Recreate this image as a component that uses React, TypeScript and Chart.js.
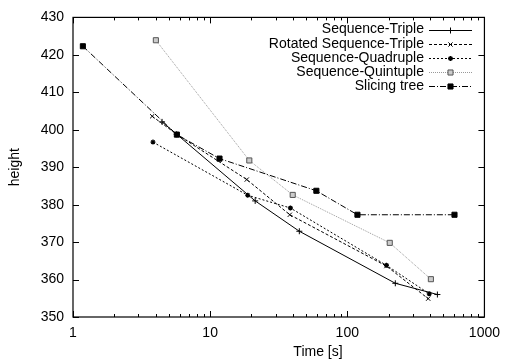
import React, { useEffect, useRef } from "react";
import { Chart, registerables } from "chart.js";
import { drawPoint } from "chart.js/helpers";

Chart.register(...registerables);

const seriesNames = [
  "Sequence-Triple",
  "Rotated Sequence-Triple",
  "Sequence-Quadruple",
  "Sequence-Quintuple",
  "Slicing tree",
];

const tripleX = [4.46, 5.7, 21.3, 44.7, 224, 454];
const tripleY = [402.1, 398.8, 381.0, 372.9, 359.0, 356.0];

const rotatedX = [3.78, 5.7, 18.5, 38.1, 193, 389];
const rotatedY = [403.6, 398.8, 386.7, 377.3, 363.6, 354.9];

const quadX = [3.83, 18.8, 38.5, 193, 396];
const quadY = [396.7, 382.5, 379.1, 363.8, 356.2];

const quintX = [4.02, 19.3, 40.0, 204, 407];
const quintY = [423.9, 391.8, 382.6, 369.8, 360.1];

const slicingX = [1.18, 5.72, 11.7, 59.5, 118.6, 605];
const slicingY = [422.3, 398.7, 392.3, 383.7, 377.3, 377.3];

const xMajorTicks = [1, 10, 100, 1000];
const yTicks = [350, 360, 370, 380, 390, 400, 410, 420, 430];

const xTitle = "Time [s]";
const yTitle = "height";

const FONT = "'Liberation Sans', Arial, Helvetica, sans-serif";
const FSIZE = 14;

function pts(xs: number[], ys: number[]) {
  return xs.map((x, i) => ({ x, y: ys[i] }));
}

const gnuplotPlugin = {
  id: "gnuplotDecor",
  afterDraw(chart: any) {
    const ctx = chart.ctx;
    const area = chart.chartArea;
    const xs = chart.scales.x;
    const ys = chart.scales.y;
    ctx.save();
    ctx.strokeStyle = "#000";
    ctx.lineWidth = 1.2;
    ctx.strokeRect(area.left, area.top, area.right - area.left, area.bottom - area.top);
    ctx.lineWidth = 1;
    for (let d = 0; d < xMajorTicks.length - 1; d++) {
      const base = xMajorTicks[d];
      for (let k = 1; k <= 9; k++) {
        const v = base * k;
        const px = Math.round(xs.getPixelForValue(v)) + 0.5;
        const len = k === 1 ? 6 : 3;
        ctx.beginPath();
        ctx.moveTo(px, area.bottom);
        ctx.lineTo(px, area.bottom - len);
        ctx.moveTo(px, area.top);
        ctx.lineTo(px, area.top + len);
        ctx.stroke();
      }
    }
    for (const v of yTicks) {
      const py = Math.round(ys.getPixelForValue(v)) + 0.5;
      ctx.beginPath();
      ctx.moveTo(area.left, py);
      ctx.lineTo(area.left + 6, py);
      ctx.moveTo(area.right, py);
      ctx.lineTo(area.right - 6, py);
      ctx.stroke();
    }
    ctx.fillStyle = "#000";
    ctx.font = `${FSIZE}px ${FONT}`;
    ctx.textAlign = "center";
    ctx.textBaseline = "middle";
    ctx.fillText(xTitle, 318, 352);
    ctx.save();
    ctx.translate(15, (area.top + area.bottom) / 2);
    ctx.rotate(-Math.PI / 2);
    ctx.fillText(yTitle, 0, 0);
    ctx.restore();
    const textRight = 424;
    const lineL = 429;
    const lineR = 472;
    chart.data.datasets.forEach((ds: any, i: number) => {
      const y = 29.5 + i * 14.2;
      ctx.fillStyle = "#000";
      ctx.textAlign = "right";
      ctx.textBaseline = "middle";
      ctx.fillText(ds.label, textRight, y);
      ctx.beginPath();
      ctx.strokeStyle = ds.borderColor;
      ctx.lineWidth = ds.borderWidth;
      ctx.setLineDash(ds.borderDash || []);
      ctx.moveTo(lineL, Math.round(y) + 0.5);
      ctx.lineTo(lineR, Math.round(y) + 0.5);
      ctx.stroke();
      ctx.setLineDash([]);
      ctx.strokeStyle = ds.pointBorderColor;
      ctx.fillStyle = ds.pointBackgroundColor;
      ctx.lineWidth = ds.pointBorderWidth;
      drawPoint(ctx, { pointStyle: ds.pointStyle, rotation: 0, radius: ds.pointRadius, borderWidth: ds.pointBorderWidth }, (lineL + lineR) / 2, Math.round(y) + 0.5);
    });
    ctx.restore();
  },
};

export default function App() {
  const ref = useRef<HTMLCanvasElement | null>(null);
  useEffect(() => {
    if (!ref.current) return;
    const mk = (label: string, data: any[], color: string, dash: number[], style: string, radius: number, bg: string, pbc: string, pbw: number) => ({
      label,
      data,
      borderColor: color,
      borderWidth: 1,
      borderDash: dash,
      pointStyle: style,
      pointRadius: radius,
      pointHoverRadius: radius,
      pointBackgroundColor: bg,
      pointBorderColor: pbc,
      pointBorderWidth: pbw,
      fill: false,
      tension: 0,
    });
    const chart = new Chart(ref.current, {
      type: "line",
      data: {
        datasets: [
          mk(seriesNames[0], pts(tripleX, tripleY), "#000", [], "cross", 3, "#000", "#000", 1),
          mk(seriesNames[1], pts(rotatedX, rotatedY), "#000", [3, 2], "crossRot", 3, "#000", "#000", 1),
          mk(seriesNames[2], pts(quadX, quadY), "#000", [2, 2], "star", 2.5, "#000", "#000", 1.3),
          mk(seriesNames[3], pts(quintX, quintY), "#999", [1, 1], "rect", 3.6, "#ccc", "#555", 1),
          mk(seriesNames[4], pts(slicingX, slicingY), "#000", [6, 2, 1, 2], "rect", 3.6, "#000", "#000", 1),
        ],
      },
      options: {
        responsive: false,
        animation: false,
        events: [],
        layout: { padding: { left: 0, right: 18, top: 17, bottom: 0 } },
        plugins: { legend: { display: false }, tooltip: { enabled: false } },
        scales: {
          x: {
            type: "logarithmic",
            min: 1,
            max: 1000,
            grid: { display: false, drawTicks: false },
            border: { display: false },
            afterBuildTicks: (s: any) => {
              s.ticks = xMajorTicks.map((v) => ({ value: v }));
            },
            afterFit: (s: any) => {
              s.height = 42;
            },
            ticks: {
              autoSkip: false,
              maxRotation: 0,
              padding: 8,
              color: "#000",
              font: { family: FONT, size: FSIZE },
              callback: (v: any) => String(v),
            },
          },
          y: {
            type: "linear",
            min: 350,
            max: 430,
            grid: { display: false, drawTicks: false },
            border: { display: false },
            afterBuildTicks: (s: any) => {
              s.ticks = yTicks.map((v) => ({ value: v }));
            },
            afterFit: (s: any) => {
              s.width = 73;
            },
            ticks: {
              padding: 9,
              color: "#000",
              font: { family: FONT, size: FSIZE },
              callback: (v: any) => String(v),
            },
          },
        },
      },
      plugins: [gnuplotPlugin],
    } as any);
    return () => chart.destroy();
  }, []);
  return (
    <div style={{ position: "absolute", left: 0, top: 0, width: 508, height: 359, background: "#fff" }}>
      <canvas ref={ref} width={508} height={359} style={{ display: "block" }} />
    </div>
  );
}
